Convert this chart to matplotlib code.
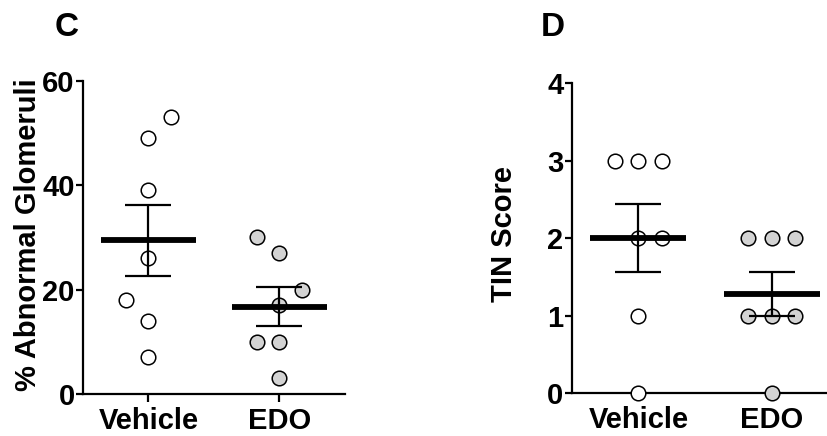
import matplotlib
matplotlib.use("Agg")
import matplotlib.pyplot as plt
import numpy as np

plt.rcParams['font.family'] = ['Liberation Sans', 'DejaVu Sans']
plt.rcParams['font.weight'] = 'bold'

groups = ['Vehicle', 'EDO']

# panel C: % abnormal glomeruli
glom_vehicle = [53, 49, 39, 26, 18, 14, 7]
glom_edo = [30, 27, 20, 17, 10, 10, 3]

# panel D: TIN score
tin_vehicle = [3, 3, 3, 2, 2, 1, 0]
tin_edo = [2, 2, 2, 1, 1, 1, 0]

# horizontal scatter of the dots (layout only)
glom_vehicle_dx = [1, 0, 0, 0, -1, 0, 0]
glom_edo_dx = [-1, 0, 1, 0, -1, 0, 0]
tin_vehicle_dx = [-1, 0, 1, 0, 1, 0, 0]
tin_edo_dx = [-1, 0, 1, -1, 0, 1, 0]

FS = 21
fills = ['white', '#d3d3d3']


def panel(ax, series, offsets, ylim, yticks, ylabel, step):
    for i, (vals, dx) in enumerate(zip(series, offsets)):
        vals = np.array(vals, float)
        xs = i + step * np.array(dx)
        ax.plot(xs, vals, 'o', ms=10.5, mfc=fills[i], mec='black', mew=1.1,
                clip_on=False, zorder=3)
        m = vals.mean()
        sem = vals.std(ddof=1) / np.sqrt(len(vals))
        ax.hlines(m, i - 0.36, i + 0.36, color='black', lw=4.2, zorder=4)
        ax.errorbar(i, m, yerr=sem, fmt='none', ecolor='black', elinewidth=1.6,
                    capsize=16.5, capthick=1.6, zorder=4)
    ax.set_xlim(-0.5, 1.5)
    ax.set_ylim(*ylim)
    ax.set_yticks(yticks)
    ax.set_xticks([0, 1])
    ax.set_xticklabels(groups, fontsize=FS, fontweight='bold')
    ax.tick_params(axis='y', labelsize=FS, width=1.6, length=5, pad=1)
    ax.tick_params(axis='x', width=1.6, length=6, pad=3)
    for lab in ax.get_yticklabels():
        lab.set_fontweight('bold')
    ax.set_ylabel(ylabel, fontsize=FS, fontweight='bold')
    for s in ['top', 'right']:
        ax.spines[s].set_visible(False)
    for s in ['left', 'bottom']:
        ax.spines[s].set_linewidth(1.6)


fig = plt.figure(figsize=(8.28, 4.36), dpi=100)

ax1 = fig.add_axes([0.1002, 0.0963, 0.3164, 0.7187])
panel(ax1, [glom_vehicle, glom_edo], [glom_vehicle_dx, glom_edo_dx],
      (0, 60), [0, 20, 40, 60], '% Abnormal Glomeruli', 0.17)
ax1.yaxis.set_label_coords(-41 / 262, 0.51)

ax2 = fig.add_axes([0.6905, 0.0979, 0.3222, 0.711])
panel(ax2, [tin_vehicle, tin_edo], [tin_vehicle_dx, tin_edo_dx],
      (0, 4), [0, 1, 2, 3, 4], 'TIN Score', 0.175)
ax2.yaxis.set_label_coords(-0.201, 0.514)

fig.text(66.7 / 828, 1 - 27 / 436, 'C', fontsize=24, fontweight='bold',
         ha='center', va='center')
fig.text(553 / 828, 1 - 27 / 436, 'D', fontsize=24, fontweight='bold',
         ha='center', va='center')

fig.savefig('out.png', dpi=100)
